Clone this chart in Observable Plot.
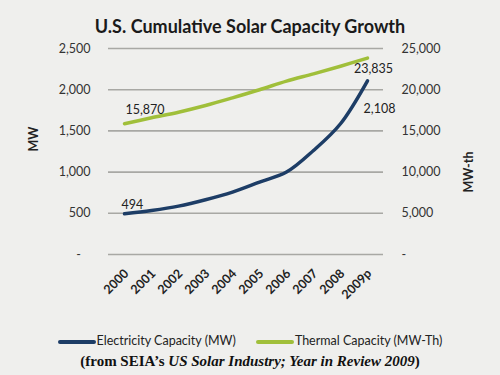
<!DOCTYPE html>
<html>
<head>
<meta charset="utf-8">
<script src="https://cdn.jsdelivr.net/npm/d3@7"></script>
<script src="https://cdn.jsdelivr.net/npm/@observablehq/plot@0.6"></script>
<style>
  html, body { margin: 0; padding: 0; background: #efefed; width: 500px; height: 375px; overflow: hidden; }
  #title { height: 38px; box-sizing: border-box; padding-top: 16px; text-align: center; font-family: Lato, sans-serif; font-weight: bold; font-size: 18px; color: #1a1a1a; line-height: 20px; }
  #chart { height: 285px; }
  #legend { height: 28px; box-sizing: border-box; padding-top: 10px; text-align: center; font-family: Lato, sans-serif; font-size: 12.5px; color: #222; line-height: 16px; white-space: nowrap; }
  #legend .sw { display: inline-block; width: 38px; height: 4px; vertical-align: middle; border-radius: 2px; margin-right: 1px; }
  #legend .item { display: inline-block; margin: 0 10px; }
  #caption { padding-top: 1px; text-align: center; font-family: "Liberation Serif", serif; font-weight: bold; font-size: 15px; color: #111; line-height: 18px; }
</style>
</head>
<body>
<div id="title">U.S. Cumulative Solar Capacity Growth</div>
<div id="chart"></div>
<div id="legend"></div>
<div id="caption">(from SEIA’s <i>US Solar Industry; Year in Review 2009</i>)</div>
<script>
const years = ["2000", "2001", "2002", "2003", "2004", "2005", "2006", "2007", "2008", "2009p"];
const electricity = [494, 534, 587, 664, 757, 878, 1000, 1262, 1587, 2108];
const thermal = [15870, 16590, 17270, 18080, 19010, 19990, 21040, 21920, 22850, 23835];
const leftTicks = [0, 500, 1000, 1500, 2000, 2500];
const rightTicks = [0, 5000, 10000, 15000, 20000, 25000];
const seriesNames = ["Electricity Capacity (MW)", "Thermal Capacity (MW-Th)"];
const seriesColors = ["#1d3d66", "#a0bf3a"];
const leftLabel = "MW";
const rightLabel = "MW-th";

const ratio = leftTicks[leftTicks.length - 1] / rightTicks[rightTicks.length - 1];
const fmt = d3.format(",");
const elecData = years.map((y, i) => ({year: y, value: electricity[i], label: fmt(electricity[i])}));
const thermData = years.map((y, i) => ({year: y, value: thermal[i] * ratio, label: fmt(thermal[i])}));
const first = (d, i) => i === 0;
const last = (d, i) => i === years.length - 1;

const chart = Plot.plot({
  width: 500,
  height: 285,
  marginLeft: 108,
  marginRight: 117,
  marginTop: 10,
  marginBottom: 69,
  style: {background: "transparent", fontFamily: "Lato, sans-serif", fontSize: "12.5px", color: "#333"},
  x: {type: "point", domain: years, padding: 0.5, label: null},
  y: {domain: [0, 2500], label: null},
  marks: [
    Plot.ruleY(leftTicks, {stroke: "#a8a8a4", strokeWidth: 1.6}),
    Plot.axisX({tickSize: 0, tickRotate: -45, tickPadding: 6, dy: 11, dx: 2, fontWeight: "bold", fill: "#222", fontSize: 12.5, label: null}),
    Plot.axisY({anchor: "left", ticks: leftTicks, tickSize: 0, tickPadding: 18, fill: "#333",
      tickFormat: d => d === 0 ? "-\u00a0\u00a0\u00a0" : fmt(d), label: null}),
    Plot.axisY({anchor: "right", ticks: leftTicks, tickSize: 0, tickPadding: 18, fill: "#333",
      tickFormat: d => d === 0 ? "-" : fmt(d / ratio), label: null}),
    Plot.text([leftLabel], {frameAnchor: "left", dx: -75, rotate: -90, fontWeight: "bold", fill: "#222", fontSize: 12.5}),
    Plot.text([rightLabel], {frameAnchor: "right", dx: 85, rotate: -90, fontWeight: "bold", fill: "#222", fontSize: 12.5}),
    Plot.line(thermData, {x: "year", y: "value", stroke: seriesColors[1], strokeWidth: 3.5, curve: "catmull-rom"}),
    Plot.line(elecData, {x: "year", y: "value", stroke: seriesColors[0], strokeWidth: 3.5, curve: "catmull-rom"}),
    Plot.text(elecData, {filter: first, x: "year", y: "value", text: "label", textAnchor: "start", dx: -3, dy: -9, fill: "#222"}),
    Plot.text(thermData, {filter: first, x: "year", y: "value", text: "label", textAnchor: "start", dx: 1, dy: -14, fill: "#222"}),
    Plot.text(thermData, {filter: last, x: "year", y: "value", text: "label", textAnchor: "middle", dx: 6, dy: 11, fill: "#222"}),
    Plot.text(elecData, {filter: last, x: "year", y: "value", text: "label", textAnchor: "middle", dx: 12, dy: 28, fill: "#222"})
  ]
});
document.getElementById("chart").appendChild(chart);

const legend = document.getElementById("legend");
seriesNames.forEach((name, i) => {
  const item = document.createElement("span");
  item.className = "item";
  const sw = document.createElement("span");
  sw.className = "sw";
  sw.style.background = seriesColors[i];
  item.appendChild(sw);
  item.appendChild(document.createTextNode(name));
  legend.appendChild(item);
});
</script>
</body>
</html>
